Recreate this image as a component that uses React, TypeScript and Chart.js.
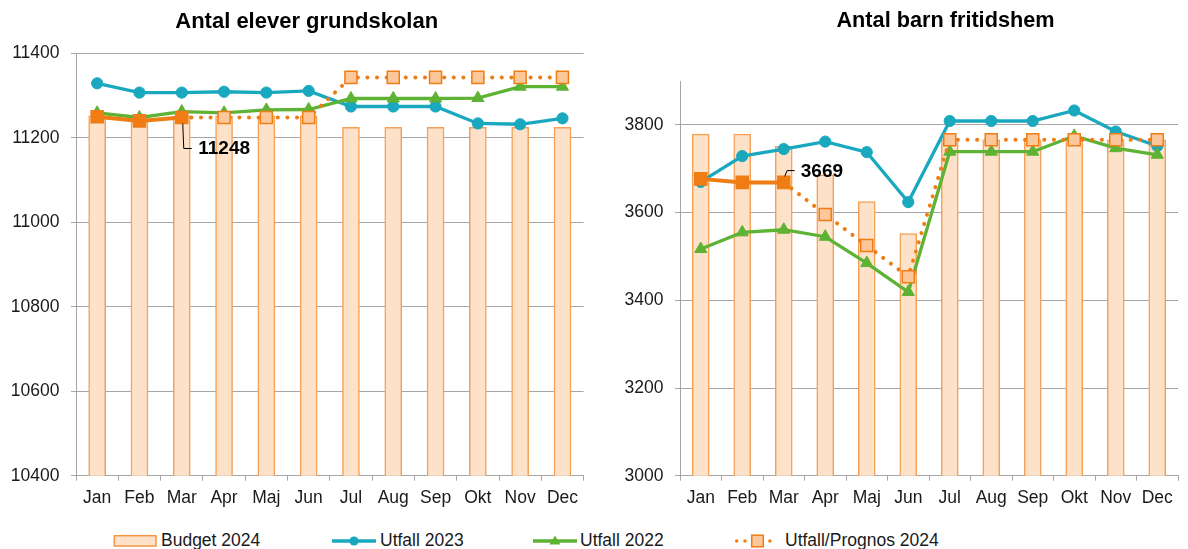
import React, { useEffect, useRef } from 'react';
import { Chart, registerables } from 'chart.js';

Chart.register(...registerables);

// ---------- DATA ----------
const months = ['Jan', 'Feb', 'Mar', 'Apr', 'Maj', 'Jun', 'Jul', 'Aug', 'Sep', 'Okt', 'Nov', 'Dec'];

// Antal elever grundskolan
const grundBudget2024 = [11252, 11252, 11252, 11252, 11252, 11252, 11225, 11225, 11225, 11225, 11225, 11225];
const grundUtfall2023 = [11329, 11307, 11307, 11309, 11307, 11311, 11274, 11274, 11274, 11234, 11232, 11246];
const grundUtfall2022 = [11259, 11248, 11262, 11259, 11266, 11267, 11293, 11293, 11293, 11294, 11321, 11321];
const grundPrognos2024 = [11250, 11240, 11248, 11248, 11248, 11248, 11343, 11343, 11343, 11343, 11343, 11343];
const grundTicks = [10400, 10600, 10800, 11000, 11200, 11400];

// Antal barn fritidshem
const fritidsBudget2024 = [3779, 3779, 3751, 3686, 3625, 3552, 3766, 3766, 3766, 3768, 3766, 3766];
const fritidsUtfall2023 = [3670, 3729, 3745, 3762, 3738, 3624, 3809, 3809, 3809, 3833, 3785, 3752];
const fritidsUtfall2022 = [3517, 3555, 3561, 3545, 3485, 3419, 3739, 3739, 3739, 3775, 3747, 3732];
const fritidsPrognos2024 = [3677, 3669, 3669, 3596, 3525, 3454, 3766, 3766, 3766, 3766, 3766, 3766];
const fritidsTicks = [3000, 3200, 3400, 3600, 3800];
const fritidsAxisMax = 3900;

// number of months that are actual outcome (rest is forecast)
const actualMonths = 3;
const calloutIndex = 2; // Mar

const seriesLabels = ['Budget 2024', 'Utfall 2023', 'Utfall 2022', 'Utfall/Prognos 2024'];
const titles = ['Antal elever grundskolan', 'Antal barn fritidshem'];

// ---------- STYLE ----------
const FONT = '"Liberation Sans", Arial, Helvetica, sans-serif';
const TEXT = '#1a1a1a';
const GRID = '#a6a6a6';
const TEAL = '#1aa8bf';
const GREEN = '#5eb234';
const ORANGE = '#f07c14';
const PEACH = '#fcc79a';
const BAR_FILL = '#fde2c9';
const BAR_BORDER = '#f5a057';

const panelTitle = {
  id: 'panelTitle',
  afterDraw(chart: any, _args: any, opts: any) {
    const ctx = chart.ctx;
    ctx.save();
    ctx.font = `bold ${opts.size}px ${FONT}`;
    ctx.fillStyle = '#000';
    ctx.textAlign = 'center';
    ctx.textBaseline = 'middle';
    ctx.fillText(opts.text, opts.x, opts.y);
    ctx.restore();
  },
};

const callout = {
  id: 'callout',
  afterDatasetsDraw(chart: any, _args: any, opts: any) {
    const meta = chart.getDatasetMeta(opts.datasetIndex);
    const el = meta.data[opts.index];
    if (!el) return;
    const value = chart.data.datasets[opts.datasetIndex].data[opts.index];
    const ctx = chart.ctx;
    ctx.save();
    ctx.strokeStyle = '#000';
    ctx.lineWidth = 1;
    ctx.beginPath();
    opts.path.forEach((p: number[], i: number) => {
      const x = el.x + p[0];
      const y = el.y + p[1];
      if (i === 0) ctx.moveTo(x, y);
      else ctx.lineTo(x, y);
    });
    ctx.stroke();
    ctx.font = `bold 19px ${FONT}`;
    ctx.fillStyle = '#000';
    ctx.textAlign = 'left';
    ctx.textBaseline = 'middle';
    ctx.fillText(String(value), el.x + opts.text[0], el.y + opts.text[1]);
    ctx.restore();
  },
};

function buildConfig(p: any): any {
  const tickVals: number[] = p.ticks;
  return {
    type: 'bar',
    data: {
      labels: months,
      datasets: [
        {
          type: 'bar',
          label: seriesLabels[0],
          data: p.budget,
          backgroundColor: BAR_FILL,
          borderColor: BAR_BORDER,
          borderWidth: 1.5,
          barThickness: 17,
          order: 4,
        },
        {
          type: 'line',
          label: seriesLabels[1],
          data: p.u23,
          borderColor: TEAL,
          backgroundColor: TEAL,
          borderWidth: 3.3,
          pointStyle: 'circle',
          pointRadius: 5.6,
          pointBackgroundColor: TEAL,
          pointBorderColor: TEAL,
          pointBorderWidth: 1,
          tension: 0,
          fill: false,
          order: 3,
        },
        {
          type: 'line',
          label: seriesLabels[2],
          data: p.u22,
          borderColor: GREEN,
          backgroundColor: GREEN,
          borderWidth: 3.3,
          pointStyle: 'triangle',
          pointRadius: 7,
          pointBackgroundColor: GREEN,
          pointBorderColor: GREEN,
          pointBorderWidth: 1,
          tension: 0,
          fill: false,
          order: 2,
        },
        {
          type: 'line',
          label: seriesLabels[3],
          data: p.prog,
          borderColor: ORANGE,
          backgroundColor: ORANGE,
          borderWidth: 4,
          pointStyle: 'rect',
          pointRadius: 8.5,
          pointBackgroundColor: p.prog.map((_: number, i: number) => (i < actualMonths ? ORANGE : PEACH)),
          pointBorderColor: ORANGE,
          pointBorderWidth: 1.5,
          tension: 0,
          fill: false,
          order: 1,
          segment: {
            borderDash: (c: any) => (c.p1DataIndex >= actualMonths ? [0.1, 9.5] : undefined),
            borderCapStyle: (c: any) => (c.p1DataIndex >= actualMonths ? 'round' : 'butt'),
          },
        },
      ],
    },
    options: {
      responsive: false,
      maintainAspectRatio: false,
      animation: false,
      events: [],
      devicePixelRatio: 1,
      layout: { padding: p.padding },
      plugins: {
        legend: { display: false },
        tooltip: { enabled: false },
        title: { display: false },
        panelTitle: p.title,
        callout: p.callout,
      },
      scales: {
        x: {
          offset: true,
          grid: {
            display: true,
            offset: true,
            drawOnChartArea: false,
            drawTicks: true,
            tickLength: 5,
            color: GRID,
          },
          border: { display: true, color: GRID, width: 1 },
          ticks: {
            color: TEXT,
            font: { family: FONT, size: 17.5 },
            padding: 7,
            autoSkip: false,
            maxRotation: 0,
          },
          afterFit: (s: any) => {
            s.height = 40;
          },
        },
        y: {
          min: tickVals[0],
          max: p.max,
          grid: {
            color: GRID,
            lineWidth: 1,
            drawTicks: true,
            tickLength: 5,
          },
          border: { display: true, color: GRID, width: 1 },
          ticks: {
            stepSize: 200,
            color: TEXT,
            font: { family: FONT, size: 17.5 },
            padding: 11.5,
            callback: (v: any) => String(v),
          },
          afterBuildTicks: (s: any) => {
            s.ticks = tickVals.map((v) => ({ value: v }));
          },
          afterFit: (s: any) => {
            s.width = p.yWidth;
          },
        },
      },
    },
    plugins: [panelTitle, callout],
  };
}

const legendText: React.CSSProperties = {
  position: 'absolute',
  top: 530,
  lineHeight: '21px',
  fontSize: 17.5,
  fontFamily: FONT,
  color: TEXT,
  whiteSpace: 'nowrap',
};

export default function App() {
  const leftRef = useRef<HTMLCanvasElement>(null);
  const rightRef = useRef<HTMLCanvasElement>(null);

  useEffect(() => {
    const left = new Chart(
      leftRef.current as HTMLCanvasElement,
      buildConfig({
        budget: grundBudget2024,
        u23: grundUtfall2023,
        u22: grundUtfall2022,
        prog: grundPrognos2024,
        ticks: grundTicks,
        max: grundTicks[grundTicks.length - 1],
        yWidth: 76,
        padding: { left: 0, right: 16.4, top: 53.3, bottom: 4.3 },
        title: { text: titles[0], x: 306.7, y: 21.5, size: 22 },
        callout: { datasetIndex: 3, index: calloutIndex, path: [[1, 6], [2, 31], [10, 31]], text: [16.5, 31.3] },
      })
    );
    const right = new Chart(
      rightRef.current as HTMLCanvasElement,
      buildConfig({
        budget: fritidsBudget2024,
        u23: fritidsUtfall2023,
        u22: fritidsUtfall2022,
        prog: fritidsPrognos2024,
        ticks: fritidsTicks,
        max: fritidsAxisMax,
        yWidth: 80,
        padding: { left: 0, right: 0, top: 81.1, bottom: 4.3 },
        title: { text: titles[1], x: 345.5, y: 21.5, size: 21.7 },
        callout: { datasetIndex: 3, index: calloutIndex, path: [[1, -6], [3.3, -11.8], [11, -11.8]], text: [17, -11] },
      })
    );
    return () => {
      left.destroy();
      right.destroy();
    };
  }, []);

  return (
    <div style={{ position: 'fixed', left: 0, top: 0, width: 1188, height: 549, background: '#fff', overflow: 'hidden' }}>
      <canvas ref={leftRef} width={600} height={520} style={{ position: 'absolute', left: 0, top: 0, width: 600, height: 520 }} />
      <canvas ref={rightRef} width={588} height={520} style={{ position: 'absolute', left: 600, top: 0, width: 588, height: 520 }} />

      <svg width={44} height={14} style={{ position: 'absolute', left: 113, top: 534 }}>
        <rect x={1.3} y={1.7} width={41.7} height={10.3} fill={BAR_FILL} stroke="#f39643" strokeWidth={1.5} />
      </svg>
      <span style={{ ...legendText, left: 161 }}>{seriesLabels[0]}</span>

      <svg width={46} height={14} style={{ position: 'absolute', left: 331, top: 534 }}>
        <line x1={1} y1={7} x2={45} y2={7} stroke={TEAL} strokeWidth={3.3} />
        <circle cx={23} cy={7} r={4.6} fill={TEAL} />
      </svg>
      <span style={{ ...legendText, left: 380 }}>{seriesLabels[1]}</span>

      <svg width={46} height={14} style={{ position: 'absolute', left: 532, top: 534 }}>
        <line x1={1} y1={7} x2={45} y2={7} stroke={GREEN} strokeWidth={3.3} />
        <polygon points="23,1.5 28.5,10.5 17.5,10.5" fill={GREEN} />
      </svg>
      <span style={{ ...legendText, left: 580 }}>{seriesLabels[2]}</span>

      <svg width={44} height={14} style={{ position: 'absolute', left: 734, top: 534 }}>
        <line x1={2.7} y1={7} x2={41.5} y2={7} stroke={ORANGE} strokeWidth={3.5} strokeDasharray="0 8.3" strokeLinecap="round" />
        <rect x={17.7} y={1.2} width={11.6} height={11.6} fill={PEACH} stroke={ORANGE} strokeWidth={1.5} />
      </svg>
      <span style={{ ...legendText, left: 785 }}>{seriesLabels[3]}</span>
    </div>
  );
}
